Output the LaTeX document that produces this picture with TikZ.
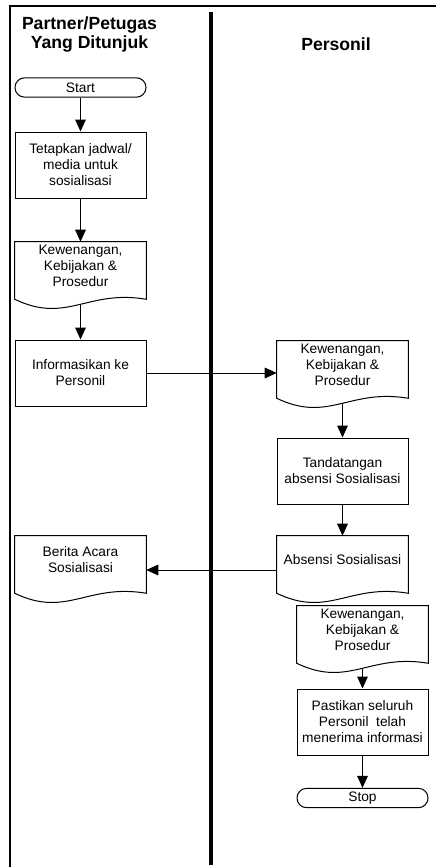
\documentclass[tikz,border=0pt]{standalone}
\usepackage{fontspec}
\setmainfont{Liberation Sans}
\usetikzlibrary{arrows.meta}

\newcommand{\docoutline}[1]{%
  \draw[line width=0.75pt] (#1.north west) -- (#1.north east) -- ([yshift=-6.75pt]#1.south east)
    .. controls +(-59,-10) and +(52,25) .. ([yshift=-6.75pt]#1.south west) -- cycle;}

\begin{document}
\begin{tikzpicture}[x=0.75pt, y=-0.75pt,
    proc/.style={draw, line width=0.75pt, minimum width=98.25pt, minimum height=49.5pt,
      inner sep=1pt, align=center, font=\fontsize{10.3}{12}\selectfont},
    docbox/.style={minimum width=98.25pt, minimum height=36pt, inner sep=1pt,
      align=center, font=\fontsize{10.3}{12}\selectfont},
    term/.style={draw, line width=0.75pt, rounded corners=7.2pt, minimum width=98.25pt,
      minimum height=14.5pt, inner sep=0pt, font=\fontsize{10.3}{12}\selectfont},
    arr/.style={line width=0.75pt, -{Triangle[length=9pt, width=8pt]}},
    lane/.style={align=center, font=\bfseries\fontsize{13.2}{14.25}\selectfont}]

        \useasboundingbox (0,0) rectangle (436,867);
        \draw[line width=1pt] (10,867) -- (10,6) -- (436,6);
        \draw[line width=2.4pt] (211,12) -- (211,865);

        \node[lane] (hpartner) at (89.5,34) {Partner/Petugas\\Yang Ditunjuk};
        \node[lane] (hpersonil) at (336,44) {Personil};

        \node[term] (start) at (80.5,87.5) {Start};
        \node[proc] (tetapkan) at (80.5,165) {Tetapkan jadwal/\\media untuk\\sosialisasi};
        \node[docbox] (kebijakan1) at (80.5,266) {Kewenangan,\\Kebijakan \&\\Prosedur};
        \node[proc] (informasi) at (80.5,373) {Informasikan ke\\Personil};
        \node[docbox] (kebijakan2) at (342.5,365) {Kewenangan,\\Kebijakan \&\\Prosedur};
        \node[proc] (tandatangan) at (342.5,471) {Tandatangan\\absensi Sosialisasi};
        \node[docbox] (absensi) at (342.5,560) {Absensi Sosialisasi};
        \node[docbox] (berita) at (80.5,560) {Berita Acara\\Sosialisasi};
        \node[docbox] (kebijakan3) at (362.5,630) {Kewenangan,\\Kebijakan \&\\Prosedur};
        \node[proc] (pastikan) at (362.5,722) {Pastikan seluruh\\Personil\ \ telah\\menerima informasi};
        \node[term] (stop) at (362.5,798) {Stop};

        \docoutline{kebijakan1}
        \docoutline{kebijakan2}
        \docoutline{absensi}
        \docoutline{berita}
        \docoutline{kebijakan3}

        \coordinate (absout) at ([yshift=-7.5pt]absensi.west);

        \draw[arr] (start) -- (tetapkan);
        \draw[arr] (tetapkan) -- (kebijakan1);
        \draw[arr] (kebijakan1.south) ++(0,14) -- (informasi);
        \draw[arr] (informasi.east) -- (informasi.east -| kebijakan2.west);
        \draw[arr] (kebijakan2.south) ++(0,14) -- (tandatangan);
        \draw[arr] (tandatangan) -- (absensi);
        \draw[arr] (absout) -- (absout -| berita.east);
        \draw[arr] (kebijakan3.south) ++(0,14) -- (pastikan);
        \draw[arr] (pastikan) -- (stop);
\end{tikzpicture}
\end{document}
